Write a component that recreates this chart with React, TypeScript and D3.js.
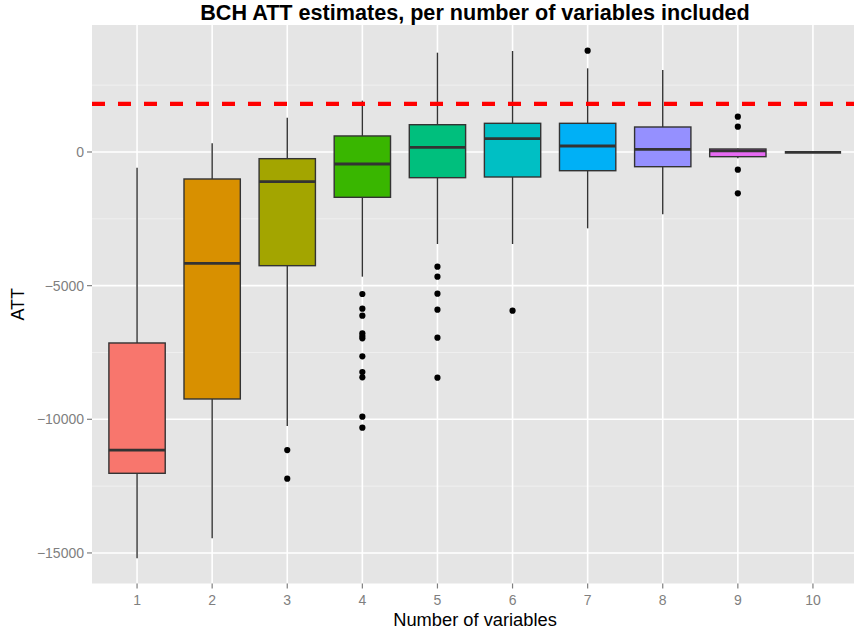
import React from "react";
import * as d3 from "d3";

const categories = ["1", "2", "3", "4", "5", "6", "7", "8", "9", "10"];
const whiskerLow = [-15200, -14450, -10250, -4664, -3442, -3442, -2856, -2332, -230, -12];
const lowerHinge = [-12020, -9240, -4253, -1695, -961, -935, -700, -550, -175, -12];
const medians = [-11150, -4165, -1110, -450, 176, 498, 224, 100, 40, -12];
const upperHinge = [-7145, -1010, -250, 600, 1021, 1073, 1073, 935, 112, -12];
const whiskerHigh = [-587, 325, 1283, 1920, 3715, 3778, 3130, 3068, 130, -12];
const outliers = [
  [],
  [],
  [-11150, -12220],
  [-5312, -5860, -6123, -6783, -6884, -6970, -7643, -8230, -8430, -9903, -10314],
  [-4290, -4664, -5300, -5898, -6946, -8443],
  [-5935],
  [3790],
  [],
  [1321, 947, -662, -1546],
  [],
];
const referenceATT = 1800;
const yTicks = [0, -5000, -10000, -15000];
const yMinor = [2500, -2500, -7500, -12500];
const fills = ["#F8766D", "#D89000", "#A3A500", "#39B600", "#00BF7D", "#00BFC4", "#00B0F6", "#9590FF", "#E76BF3", "#FF62BC"];

const W = 854;
const H = 632;
// panel runs a little past the right edge of the picture
const left = 92, right = 858, top = 25, bottom = 583.5;

const App = () => {
  // discrete axis, 0.6 units of expansion on each side like ggplot
  const x = d3
    .scaleLinear()
    .domain([1 - 0.6, categories.length + 0.6])
    .range([left, right]);
  const cx = (i: number) => x(i + 1);
  const step = x(2) - x(1);
  const y = d3.scaleLinear().domain([-16143, 4751]).range([bottom, top]);
  const bw = step * 0.75;
  const font = "'Liberation Sans', Arial, sans-serif";
  const dark = "#333333";

  return (
    <svg width={W} height={H} style={{ position: "absolute", left: 0, top: 0, background: "#fff" }} fontFamily={font}>
      <rect x={left} y={top} width={right - left} height={bottom - top} fill="#E5E5E5" />
      {yMinor.map(v => (
        <line key={"m" + v} x1={left} x2={right} y1={y(v)} y2={y(v)} stroke="#F2F2F2" strokeWidth={0.8} />
      ))}
      {yTicks.map(v => (
        <line key={"g" + v} x1={left} x2={right} y1={y(v)} y2={y(v)} stroke="#fff" strokeWidth={1.6} />
      ))}
      {categories.map((c, i) => (
        <line key={"v" + c} x1={cx(i)} x2={cx(i)} y1={top} y2={bottom} stroke="#fff" strokeWidth={1.6} />
      ))}

      {categories.map((c, i) => {
        const xc = cx(i);
        return (
          <g key={"b" + c}>
            <line x1={xc} x2={xc} y1={y(upperHinge[i])} y2={y(whiskerHigh[i])} stroke={dark} strokeWidth={1.4} />
            <line x1={xc} x2={xc} y1={y(lowerHinge[i])} y2={y(whiskerLow[i])} stroke={dark} strokeWidth={1.4} />
            <rect
              x={xc - bw / 2}
              y={y(upperHinge[i])}
              width={bw}
              height={Math.max(0, y(lowerHinge[i]) - y(upperHinge[i]))}
              fill={fills[i]}
              stroke={dark}
              strokeWidth={1.4}
            />
            <line x1={xc - bw / 2} x2={xc + bw / 2} y1={y(medians[i])} y2={y(medians[i])} stroke={dark} strokeWidth={2.8} />
            {outliers[i].map((o, k) => (
              <circle key={k} cx={xc} cy={y(o)} r={3.1} fill="#000" />
            ))}
          </g>
        );
      })}

      <line
        x1={left}
        x2={right}
        y1={y(referenceATT)}
        y2={y(referenceATT)}
        stroke="#FF0000"
        strokeWidth={4.2}
        strokeDasharray="13 13"
      />

      {yTicks.map(v => (
        <g key={"t" + v}>
          <line x1={left - 5} x2={left} y1={y(v)} y2={y(v)} stroke="#7F7F7F" strokeWidth={1.2} />
          <text x={left - 8} y={y(v)} dy="0.35em" textAnchor="end" fontSize={14} fill="#7F7F7F">
            {v < 0 ? "\u2212" + Math.abs(v) : String(v)}
          </text>
        </g>
      ))}
      {categories.map((c, i) => (
        <g key={"xt" + c}>
          <line x1={cx(i)} x2={cx(i)} y1={bottom} y2={bottom + 5} stroke="#7F7F7F" strokeWidth={1.2} />
          <text x={cx(i)} y={bottom + 21} textAnchor="middle" fontSize={14} fill="#7F7F7F">
            {c}
          </text>
        </g>
      ))}

      <text x={(left + right) / 2} y={626} textAnchor="middle" fontSize={18.3} fill="#000">
        Number of variables
      </text>
      <text transform={`translate(24, ${(top + bottom) / 2}) rotate(-90)`} textAnchor="middle" fontSize={18} fill="#000">
        ATT
      </text>
      <text x={(left + right) / 2} y={20} textAnchor="middle" fontSize={21.6} fontWeight="bold" fill="#000">
        BCH ATT estimates, per number of variables included
      </text>
    </svg>
  );
};

export default App;
